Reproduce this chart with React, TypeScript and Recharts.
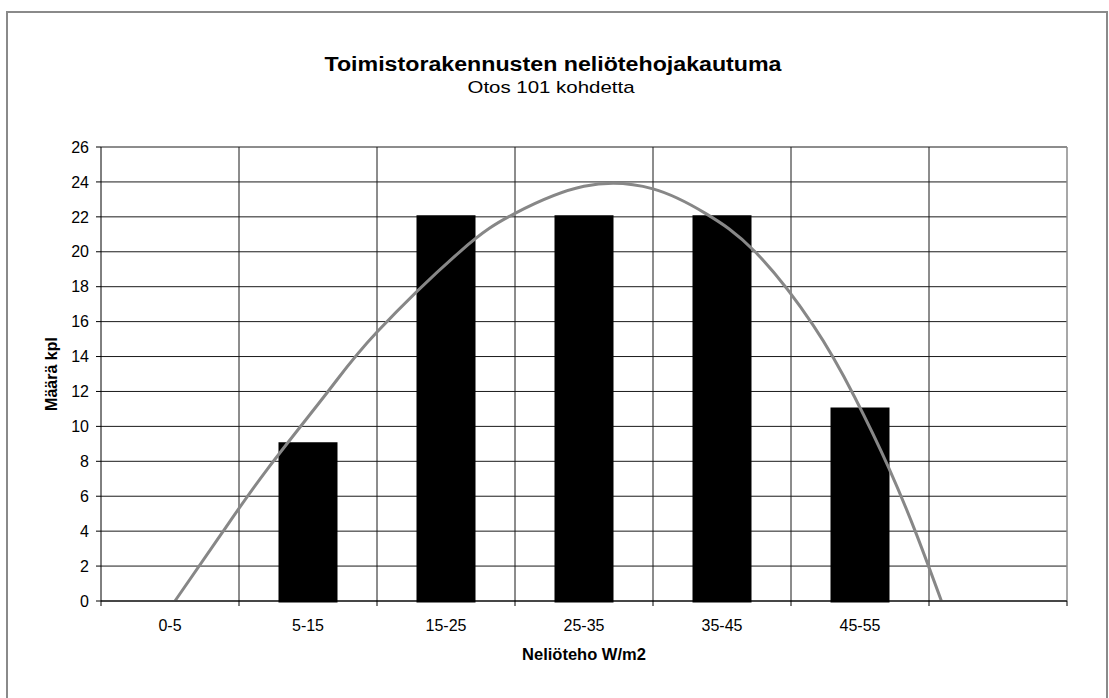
import React from 'react';
import {
  ComposedChart,
  Bar,
  Line,
  XAxis,
  YAxis,
  CartesianGrid,
  ReferenceLine,
  Label,
} from 'recharts';

// Power density classes (W/m2); the last slot is an empty class
const categories = ['0-5', '5-15', '15-25', '25-35', '35-45', '45-55', ''];
// Number of buildings in each class
const counts = [0, 9, 22, 22, 22, 11, 0];
const yTicks = [0, 2, 4, 6, 8, 10, 12, 14, 16, 18, 20, 22, 24, 26];

// Trend curve, position along the class axis (class i spans i..i+1) and its value
const trendPos = [
  0.536, 0.877, 1.21, 1.645, 2.0, 2.6, 3.0, 3.5, 4.0, 4.38, 4.74, 5.16, 5.46,
  5.71, 5.91, 6.09,
];
const trendVal = [
  0, 3.9, 7.6, 12, 15.4, 20, 22.2, 23.75, 23.6, 22.2, 20, 15.8, 11.7, 7.6, 3.8, 0,
];

const FONT = "'Liberation Sans', Arial, sans-serif";

const barData = categories.map((name, i) => ({ x: i + 0.5, name, count: counts[i] }));
const trendData = trendPos.map((x, i) => ({ x, fit: trendVal[i] }));
const edges = categories.map((_, i) => i + 1);
const xTicks: number[] = [];
categories.forEach((_, i) => {
  xTicks.push(i, i + 0.5);
});
xTicks.push(categories.length);

// Class boundaries get a short tick mark, class centres get the class name
const ClassTick = (props: any) => {
  const { x, y, payload } = props;
  const v = payload.value as number;
  if (Number.isInteger(v)) {
    return <line x1={x} x2={x} y1={y - 5} y2={y} stroke="#000" strokeWidth={1} />;
  }
  return (
    <text x={x} y={y + 25} textAnchor="middle" fontSize={16} fill="#000" fontFamily={FONT}>
      {categories[Math.floor(v)]}
    </text>
  );
};

export default function App() {
  return (
    <div style={{ position: 'absolute', left: 0, top: 0, width: 1109, height: 698, background: '#fff', overflow: 'hidden' }}>
      <ComposedChart
        width={1109}
        height={698}
        data={barData}
        margin={{ top: 147, right: 42, bottom: 35, left: 41 }}
      >
        <CartesianGrid vertical={false} stroke="#1a1a1a" strokeWidth={1} />
        <XAxis
          dataKey="x"
          type="number"
          domain={[0, categories.length]}
          ticks={xTicks}
          interval={0}
          tick={<ClassTick />}
          tickLine={false}
          tickSize={5}
          tickMargin={0}
          axisLine={{ stroke: '#000', strokeWidth: 1 }}
          height={62}
        >
          <Label
            value="Neliöteho W/m2"
            position="insideBottom"
            offset={3}
            style={{ fontFamily: FONT, fontSize: 16.5, fontWeight: 'bold', fill: '#000' }}
          />
        </XAxis>
        <XAxis
          xAxisId="fit"
          dataKey="x"
          type="number"
          domain={[0, categories.length]}
          hide
        />
        <YAxis
          type="number"
          domain={[0, 26]}
          ticks={yTicks}
          interval={0}
          width={60}
          tickSize={5}
          tickMargin={7}
          tickLine={{ stroke: '#000' }}
          axisLine={{ stroke: '#000', strokeWidth: 1 }}
          tick={{ fontFamily: FONT, fontSize: 16, fill: '#000' }}
        >
          <Label
            value="Määrä kpl"
            angle={-90}
            position="center"
            dx={-20}
            style={{ fontFamily: FONT, fontSize: 16, fontWeight: 'bold', fill: '#000', textAnchor: 'middle' }}
          />
        </YAxis>
        {edges.map((e, i) => (
          <ReferenceLine
            key={e}
            x={e}
            stroke={i === edges.length - 1 ? '#8a8a8a' : '#1a1a1a'}
            strokeWidth={i === edges.length - 1 ? 1.5 : 1}
          />
        ))}
        <Bar dataKey="count" fill="#000" stroke="#000" strokeWidth={3} barSize={56} isAnimationActive={false} />
        <Line
          xAxisId="fit"
          data={trendData}
          dataKey="fit"
          type="natural"
          stroke="#878787"
          strokeWidth={3}
          dot={false}
          activeDot={false}
          isAnimationActive={false}
        />
      </ComposedChart>
      <svg
        width={1109}
        height={698}
        style={{ position: 'absolute', left: 0, top: 0, pointerEvents: 'none' }}
      >
        <rect x={7} y={12} width={1100} height={720} fill="none" stroke="#8a8a8a" strokeWidth={2} />
        <text
          x={553}
          y={71}
          textAnchor="middle"
          fontFamily={FONT}
          fontSize={20}
          fontWeight="bold"
          fill="#000"
          textLength={457}
          lengthAdjust="spacingAndGlyphs"
        >
          Toimistorakennusten neliötehojakautuma
        </text>
        <text
          x={551}
          y={93}
          textAnchor="middle"
          fontFamily={FONT}
          fontSize={17}
          fill="#000"
          textLength={167}
          lengthAdjust="spacingAndGlyphs"
        >
          Otos 101 kohdetta
        </text>
      </svg>
    </div>
  );
}
